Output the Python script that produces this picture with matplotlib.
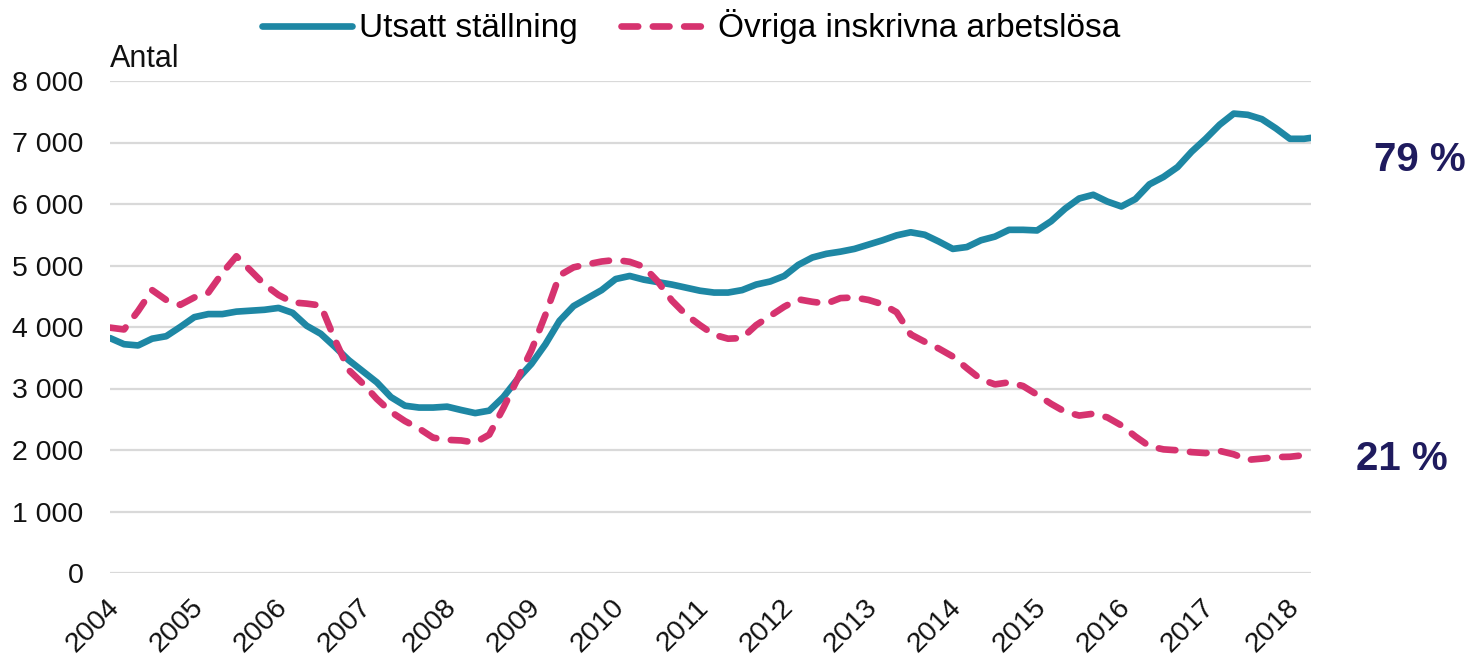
import matplotlib
matplotlib.use("Agg")
import matplotlib.pyplot as plt
import matplotlib.transforms as mtrans
import numpy as np

plt.rcParams['font.family'] = ['Liberation Sans', 'DejaVu Sans']

# month index from Jan 2004 (0) -- bimonthly readings, last point Apr 2018
month_index = list(range(0, 171, 2)) + [171]

utsatt = [
    3820, 3720, 3700, 3810, 3850, 4000,   # 2004
    4160, 4210, 4210, 4250, 4265, 4280,   # 2005
    4310, 4230, 4020, 3890, 3680, 3460,   # 2006
    3280, 3100, 2860, 2720, 2690, 2690,   # 2007
    2705, 2650, 2600, 2640, 2860, 3150,   # 2008
    3400, 3720, 4100, 4340, 4470, 4600,   # 2009
    4780, 4830, 4770, 4730, 4690, 4640,   # 2010
    4590, 4560, 4560, 4600, 4690, 4740,   # 2011
    4830, 5010, 5130, 5190, 5225, 5270,   # 2012
    5340, 5410, 5490, 5540, 5500, 5390,   # 2013
    5270, 5300, 5410, 5470, 5580, 5580,   # 2014
    5570, 5720, 5925, 6090, 6150, 6040,   # 2015
    5960, 6080, 6320, 6440, 6600, 6850,   # 2016
    7060, 7290, 7470, 7450, 7380, 7230,   # 2017
    7060, 7060, 7075,                     # 2018
]

ovriga = [
    3990, 3960, 4260, 4600, 4440, 4360,   # 2004
    4480, 4560, 4880, 5150, 4920, 4690,   # 2005
    4520, 4400, 4380, 4350, 3800, 3300,   # 2006
    3080, 2830, 2620, 2470, 2350, 2200,   # 2007
    2165, 2155, 2120, 2250, 2680, 3150,   # 2008
    3620, 4200, 4840, 4970, 5020, 5065,   # 2009
    5090, 5060, 4980, 4740, 4430, 4200,   # 2010
    4030, 3874, 3810, 3820, 4030, 4180,   # 2011
    4330, 4450, 4410, 4380, 4470, 4480,   # 2012
    4440, 4370, 4240, 3880, 3760, 3650,   # 2013
    3520, 3330, 3150, 3067, 3100, 3040,   # 2014
    2900, 2750, 2620, 2560, 2590, 2530,   # 2015
    2400, 2220, 2060, 2010, 1995, 1965,   # 2016
    1950, 1985, 1930, 1840, 1860, 1885,   # 2017
    1890, 1915, 1920,                     # 2018
]

years = list(range(2004, 2019))
yticks = [0, 1000, 2000, 3000, 4000, 5000, 6000, 7000, 8000]
series_labels = ["Utsatt ställning", "Övriga inskrivna arbetslösa"]
share_labels = ["79 %", "21 %"]

teal = "#1E87A4"
pink = "#D6336F"
navy = "#1F1B5E"
grid = "#D9D9D9"

x = 2004 + np.array(month_index) / 12.0

fig = plt.figure(figsize=(14.72, 6.56), dpi=100)
ax = fig.add_axes([110 / 1472, 1 - 573 / 656, (1311 - 110) / 1472, (573 - 81) / 656])

l1, = ax.plot(x, utsatt, color=teal, lw=4.8, solid_capstyle='round',
              solid_joinstyle='round', label=series_labels[0], zorder=3)
l2, = ax.plot(x, ovriga, color=pink, lw=4.8, dashes=(2.5, 2.2),
              dash_capstyle='round', dash_joinstyle='round',
              label=series_labels[1], zorder=3)

ax.set_xlim(2004, 2004 + 171 / 12.0)
ax.set_ylim(0, 8000)
ax.set_yticks(yticks)
ax.set_yticklabels([f"{v:,}".replace(",", " ") for v in yticks])
ax.set_xticks(years)
ax.set_xticklabels([str(y) for y in years], rotation=45, ha='right',
                   va='center', rotation_mode='anchor')
ax.tick_params(axis='y', length=0, pad=19, labelsize=20.5, colors='#111111')
ax.tick_params(axis='x', length=0, pad=22, labelsize=20.5, colors='#111111')
offset = mtrans.ScaledTranslation(5 / 100, 0, fig.dpi_scale_trans)
for lab in ax.get_xticklabels():
    lab.set_transform(lab.get_transform() + offset)
ax.yaxis.grid(True, color=grid, lw=1.6)
ax.set_axisbelow(True)
for s in ['top', 'right', 'left', 'bottom']:
    ax.spines[s].set_visible(False)

fig.text(110 / 1472, 1 - 67 / 656, "Antal", fontsize=22, ha='left',
         va='baseline', color='#111111')

fig.legend(handles=[l1, l2], loc='center', bbox_to_anchor=(691 / 1472, 1 - 27 / 656),
           ncol=2, frameon=False, fontsize=24, handlelength=2.7,
           handletextpad=0.22, columnspacing=1.3, borderpad=0, borderaxespad=0)

fig.text(1420 / 1472, 1 - 160 / 656, share_labels[0], fontsize=29, fontweight='bold',
         color=navy, ha='center', va='center')
fig.text(1402 / 1472, 1 - 459 / 656, share_labels[1], fontsize=29, fontweight='bold',
         color=navy, ha='center', va='center')

fig.savefig("out.png", dpi=100, facecolor='white')
